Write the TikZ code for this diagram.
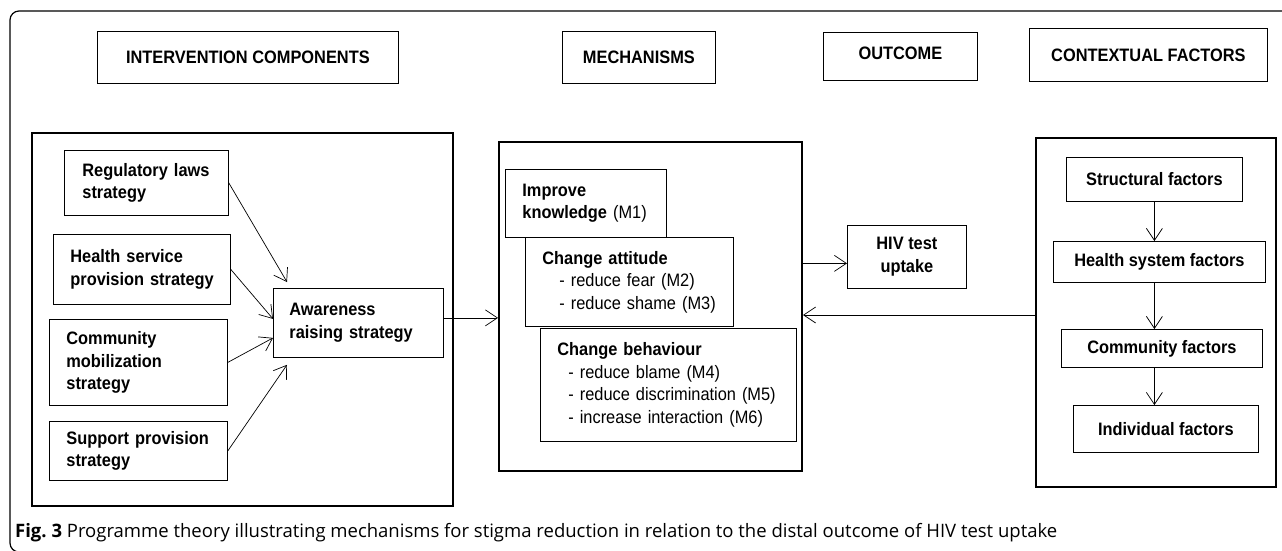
\documentclass[tikz,border=0pt]{standalone}
\usepackage{fontspec}
\setmainfont{Liberation Sans}
\newfontfamily\diag{Liberation Sans}[FakeStretch=0.91]
\newfontfamily\capfont{Open Sans}
\usetikzlibrary{arrows.meta,calc}
\begin{document}
\begin{tikzpicture}[x=1pt,y=-1pt,
  every node/.style={inner sep=0pt},
  box/.style={draw, line width=0.8pt, anchor=north west, align=center,
    font=\diag\fontsize{18}{22.5}\selectfont\bfseries},
  lbox/.style n args={3}{box, minimum width=#1pt, minimum height=#2pt, align=left},
  cbox/.style n args={2}{box, minimum width=#1pt, minimum height=#2pt},
  group/.style n args={2}{draw, line width=2pt, anchor=north west, minimum width=#1pt, minimum height=#2pt},
  arr/.style={-{Straight Barb[length=12pt,width=16pt]}, line width=0.7pt},
]
\useasboundingbox (0,0) rectangle (1282,550);
\clip (0,0) rectangle (1282,550);
% outer frame
\draw[line width=1.2pt, rounded corners=9pt] (1300,11) -- (10,11) -- (10,552) -- (1300,552);

% headers
\node[cbox={301}{52}] (hIC) at (97,31) {INTERVENTION COMPONENTS};
\node[cbox={153}{52}] (hM) at (562,31) {MECHANISMS};
\node[cbox={154}{48}, text depth=6pt] (hO) at (823,32) {OUTCOME};
\node[cbox={238}{53}] (hCF) at (1029,28) {CONTEXTUAL FACTORS};

% groups
\node[group={421}{373}] (gI) at (31,132) {};
\node[group={303}{329}] (gM) at (498,141) {};
\node[group={240}{349}] (gC) at (1035,137) {};

% intervention components
\node[lbox={164}{65}{18}, inner xsep=18pt, text width=128pt] (reg) at (64,150) {\mbox{Regulatory laws}\\strategy};
\node[lbox={177}{70}{17}, inner xsep=17pt, text width=143pt] (hsp) at (53,234) {\mbox{Health service}\\\mbox{provision strategy}};
\node[lbox={178}{86}{17}, inner xsep=17pt, text width=144pt] (com) at (49,319) {Community\\mobilization\\strategy};
\node[lbox={178}{59}{17}, inner xsep=17pt, text width=144pt] (sup) at (49,421) {\mbox{Support provision}\\strategy};
\node[lbox={170}{69}{16}, inner xsep=16pt, text width=138pt] (awr) at (273,288) {Awareness\\\mbox{raising strategy}};

% mechanisms
\node[lbox={161}{68}{17}, inner xsep=17pt, text width=127pt] (ik) at (505,169) {Improve\\\mbox{knowledge {\mdseries (M1)}}};
\node[lbox={208}{89}{17}, inner xsep=17pt, text width=174pt] (ca) at (525,237) {Change attitude\\\hspace*{17pt}{\mdseries - reduce fear (M2)}\\\hspace*{17pt}{\mdseries - reduce shame (M3)}};
\node[lbox={256}{113}{17}, inner xsep=17pt, text width=222pt] (cb) at (540,328) {Change behaviour\\\hspace*{11pt}{\mdseries - reduce blame (M4)}\\\hspace*{11pt}{\mdseries - reduce discrimination (M5)}\\\hspace*{11pt}{\mdseries - increase interaction (M6)}};

% outcome
\node[cbox={119}{63}] (hiv) at (847,225) {HIV test\\uptake};

% contextual factors
\node[cbox={176}{44}] (sf) at (1066,157) {Structural factors};
\node[cbox={212}{41}] (hs) at (1053,241) {Health system factors};
\node[cbox={201}{38}] (cf) at (1061,329) {Community factors};
\node[cbox={185}{47}] (if) at (1073,405) {Individual factors};

% arrows into awareness
\draw[arr] (reg.east) -- ([shift={(14,-6)}]awr.north west);
\draw[arr] (hsp.east) -- ([shift={(0,-4)}]awr.west);
\draw[arr] (com.east) -- ([shift={(0,15)}]awr.west);
\draw[arr] (sup.east) -- ([shift={(14,7)}]awr.south west);

% awareness -> mechanisms
\coordinate (a0) at ([shift={(0,-5)}]awr.east);
\draw[arr] (a0) -- (a0 -| gM.west);
% mechanisms -> outcome
\coordinate (a1) at ([shift={(0,6.5)}]hiv.west);
\draw[arr] (a1 -| gM.east) -- (a1);
% context -> mechanisms
\coordinate (a2) at ([shift={(0,2.5)}]gC.west);
\draw[arr] (a2) -- (a2 -| gM.east);

% context chain
\draw[arr] (sf.south) -- (sf.south |- hs.north);
\draw[arr] (hs.south -| sf.south) -- (cf.north -| sf.south);
\draw[arr] (cf.south -| sf.south) -- (if.north -| sf.south);

% caption
\node[anchor=base west, font=\capfont\fontsize{18.5}{22}\selectfont] (cap) at (15,537) {\textbf{Fig.\ 3} Programme theory illustrating mechanisms for stigma reduction in relation to the distal outcome of HIV test uptake};
\end{tikzpicture}
\end{document}
